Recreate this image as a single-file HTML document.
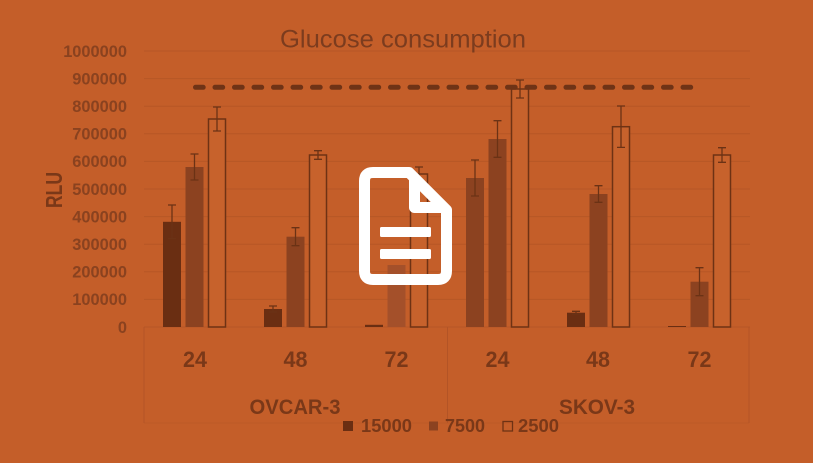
<!DOCTYPE html>
<html>
<head>
<meta charset="utf-8">
<style>
html,body{margin:0;padding:0;background:#C45E29;}
svg{display:block;}
text{font-family:"Liberation Sans",sans-serif;}
</style>
</head>
<body>
<svg width="813" height="463" viewBox="0 0 813 463" xmlns="http://www.w3.org/2000/svg">
<rect x="0" y="0" width="813" height="463" fill="#C45E29"/>

<!-- gridlines -->
<g stroke="#B65726" stroke-width="1">
<line x1="144" y1="51" x2="750" y2="51"/>
<line x1="144" y1="78.6" x2="750" y2="78.6"/>
<line x1="144" y1="106.2" x2="750" y2="106.2"/>
<line x1="144" y1="133.8" x2="750" y2="133.8"/>
<line x1="144" y1="161.4" x2="750" y2="161.4"/>
<line x1="144" y1="189" x2="750" y2="189"/>
<line x1="144" y1="216.6" x2="750" y2="216.6"/>
<line x1="144" y1="244.2" x2="750" y2="244.2"/>
<line x1="144" y1="271.8" x2="750" y2="271.8"/>
<line x1="144" y1="299.4" x2="750" y2="299.4"/>
<line x1="144" y1="327" x2="750" y2="327"/>
</g>
<!-- category axis lines -->
<g stroke="#B35426" stroke-width="1">
<line x1="144" y1="327" x2="144" y2="423"/>
<line x1="447.5" y1="327" x2="447.5" y2="423"/>
<line x1="749" y1="327" x2="749" y2="423"/>
<line x1="144" y1="423" x2="749" y2="423" stroke-opacity="0.5"/>
</g>

<!-- y labels -->
<g font-size="16.4" font-weight="bold" fill="#8A421F" text-anchor="end">
<text x="127" y="56.8">1000000</text>
<text x="127" y="84.4">900000</text>
<text x="127" y="112">800000</text>
<text x="127" y="139.6">700000</text>
<text x="127" y="167.2">600000</text>
<text x="127" y="194.8">500000</text>
<text x="127" y="222.4">400000</text>
<text x="127" y="250">300000</text>
<text x="127" y="277.6">200000</text>
<text x="127" y="305.2">100000</text>
<text x="127" y="332.8">0</text>
</g>
<text transform="translate(62,190) rotate(-90)" text-anchor="middle" font-size="23" font-weight="bold" fill="#7A3818" textLength="36" lengthAdjust="spacingAndGlyphs">RLU</text>

<!-- title -->
<text x="403" y="47.5" text-anchor="middle" font-size="25" fill="#7C3C1E" textLength="246" lengthAdjust="spacingAndGlyphs">Glucose consumption</text>

<!-- bars -->
<!-- OVCAR-3 24 -->
<rect x="163" y="221.8" width="18" height="105.2" fill="#6A2E12"/>
<rect x="185.5" y="167" width="18" height="160" fill="#8C4220"/>
<rect x="208.5" y="119" width="17" height="208" fill="#C7622C" stroke="#6E3214" stroke-width="1.5"/>
<!-- OVCAR-3 48 -->
<rect x="264" y="309" width="18" height="18" fill="#6A2E12"/>
<rect x="286.5" y="236.7" width="18" height="90.3" fill="#8C4220"/>
<rect x="309.5" y="155" width="17" height="172" fill="#C7622C" stroke="#6E3214" stroke-width="1.5"/>
<!-- OVCAR-3 72 -->
<rect x="365" y="324.8" width="18" height="2.2" fill="#6A2E12"/>
<rect x="387.5" y="265" width="18" height="62" fill="#A4502A"/>
<rect x="410.5" y="174" width="17" height="153" fill="#C7622C" stroke="#6E3214" stroke-width="1.5"/>
<!-- SKOV-3 24 -->
<rect x="466" y="178" width="18" height="149" fill="#8C4220"/>
<rect x="488.5" y="139" width="18" height="188" fill="#8C4220"/>
<rect x="511.5" y="89" width="17" height="238" fill="#C7622C" stroke="#6E3214" stroke-width="1.5"/>
<!-- SKOV-3 48 -->
<rect x="567" y="312.7" width="18" height="14.3" fill="#6A2E12"/>
<rect x="589.5" y="194" width="18" height="133" fill="#8C4220"/>
<rect x="612.5" y="126.7" width="17" height="200.3" fill="#C7622C" stroke="#6E3214" stroke-width="1.5"/>
<!-- SKOV-3 72 -->
<rect x="668" y="326" width="18" height="1" fill="#6A2E12"/>
<rect x="690.5" y="281.7" width="18" height="45.3" fill="#8C4220"/>
<rect x="713.5" y="155" width="17" height="172" fill="#C7622C" stroke="#6E3214" stroke-width="1.5"/>

<!-- error bars -->
<g stroke="#6B3215" stroke-width="1.3" fill="none">
<path d="M172 205 V238.6 M168 205 H176 M168 238.6 H176"/>
<path d="M194.5 154 V180 M190.5 154 H198.5 M190.5 180 H198.5"/>
<path d="M217 107 V131 M213 107 H221 M213 131 H221"/>
<path d="M273 306 V312 M269 306 H277 M269 312 H277"/>
<path d="M295.5 227.7 V245.7 M291.5 227.7 H299.5 M291.5 245.7 H299.5"/>
<path d="M318 150.7 V159.3 M314 150.7 H322 M314 159.3 H322"/>
<path d="M419 167 V181 M415 167 H423 M415 181 H423"/>
<path d="M475 160 V196 M471 160 H479 M471 196 H479"/>
<path d="M497.5 120.7 V157.3 M493.5 120.7 H501.5 M493.5 157.3 H501.5"/>
<path d="M520 80 V98 M516 80 H524 M516 98 H524"/>
<path d="M576 311.3 V314 M572 311.3 H580 M572 314 H580"/>
<path d="M598.5 185.7 V202.3 M594.5 185.7 H602.5 M594.5 202.3 H602.5"/>
<path d="M621 106 V147.4 M617 106 H625 M617 147.4 H625"/>
<path d="M699.5 267.7 V295.7 M695.5 267.7 H703.5 M695.5 295.7 H703.5"/>
<path d="M722 147.7 V162.3 M718 147.7 H726 M718 162.3 H726"/>
</g>

<!-- dashed reference line -->
<line x1="195.5" y1="87.3" x2="698" y2="87.3" stroke="#6F3316" stroke-width="5" stroke-linecap="round" stroke-dasharray="7.7 11.8"/>

<!-- category labels -->
<g font-size="22" font-weight="bold" fill="#7A3818" text-anchor="middle">
<text x="195" y="367" textLength="24" lengthAdjust="spacingAndGlyphs">24</text>
<text x="295.5" y="367" textLength="24" lengthAdjust="spacingAndGlyphs">48</text>
<text x="396.5" y="367" textLength="24" lengthAdjust="spacingAndGlyphs">72</text>
<text x="497.5" y="367" textLength="24" lengthAdjust="spacingAndGlyphs">24</text>
<text x="598" y="367" textLength="24" lengthAdjust="spacingAndGlyphs">48</text>
<text x="699.5" y="367" textLength="24" lengthAdjust="spacingAndGlyphs">72</text>
</g>
<g font-size="21" font-weight="bold" fill="#7A3818" text-anchor="middle">
<text x="295" y="414" textLength="91" lengthAdjust="spacingAndGlyphs">OVCAR-3</text>
<text x="597" y="414" textLength="76" lengthAdjust="spacingAndGlyphs">SKOV-3</text>
</g>

<!-- legend -->
<rect x="343" y="421" width="10" height="10" fill="#6A2E12"/>
<rect x="429" y="421.5" width="9" height="9" fill="#8C4220"/>
<rect x="503" y="421.5" width="9.5" height="9.5" fill="none" stroke="#6E3214" stroke-width="1.3"/>
<g font-size="18" font-weight="bold" fill="#7A3818">
<text x="361" y="432" textLength="51" lengthAdjust="spacingAndGlyphs">15000</text>
<text x="445" y="432" textLength="40" lengthAdjust="spacingAndGlyphs">7500</text>
<text x="518" y="432" textLength="41" lengthAdjust="spacingAndGlyphs">2500</text>
</g>

<!-- document icon -->
<g fill="none" stroke="#FFFFFF" stroke-width="11" stroke-linejoin="round" stroke-linecap="round">
<path d="M373 172.5 H409 L446.5 210 V271 Q446.5 279.5 438 279.5 H373 Q364.5 279.5 364.5 271 V181 Q364.5 172.5 373 172.5 Z"/>
<path d="M414.5 178 V207.5 H443"/>
</g>
<rect x="380" y="227" width="51" height="10" rx="1.5" fill="#FFFFFF"/>
<rect x="380" y="249" width="51" height="10" rx="1.5" fill="#FFFFFF"/>
</svg>
</body>
</html>
